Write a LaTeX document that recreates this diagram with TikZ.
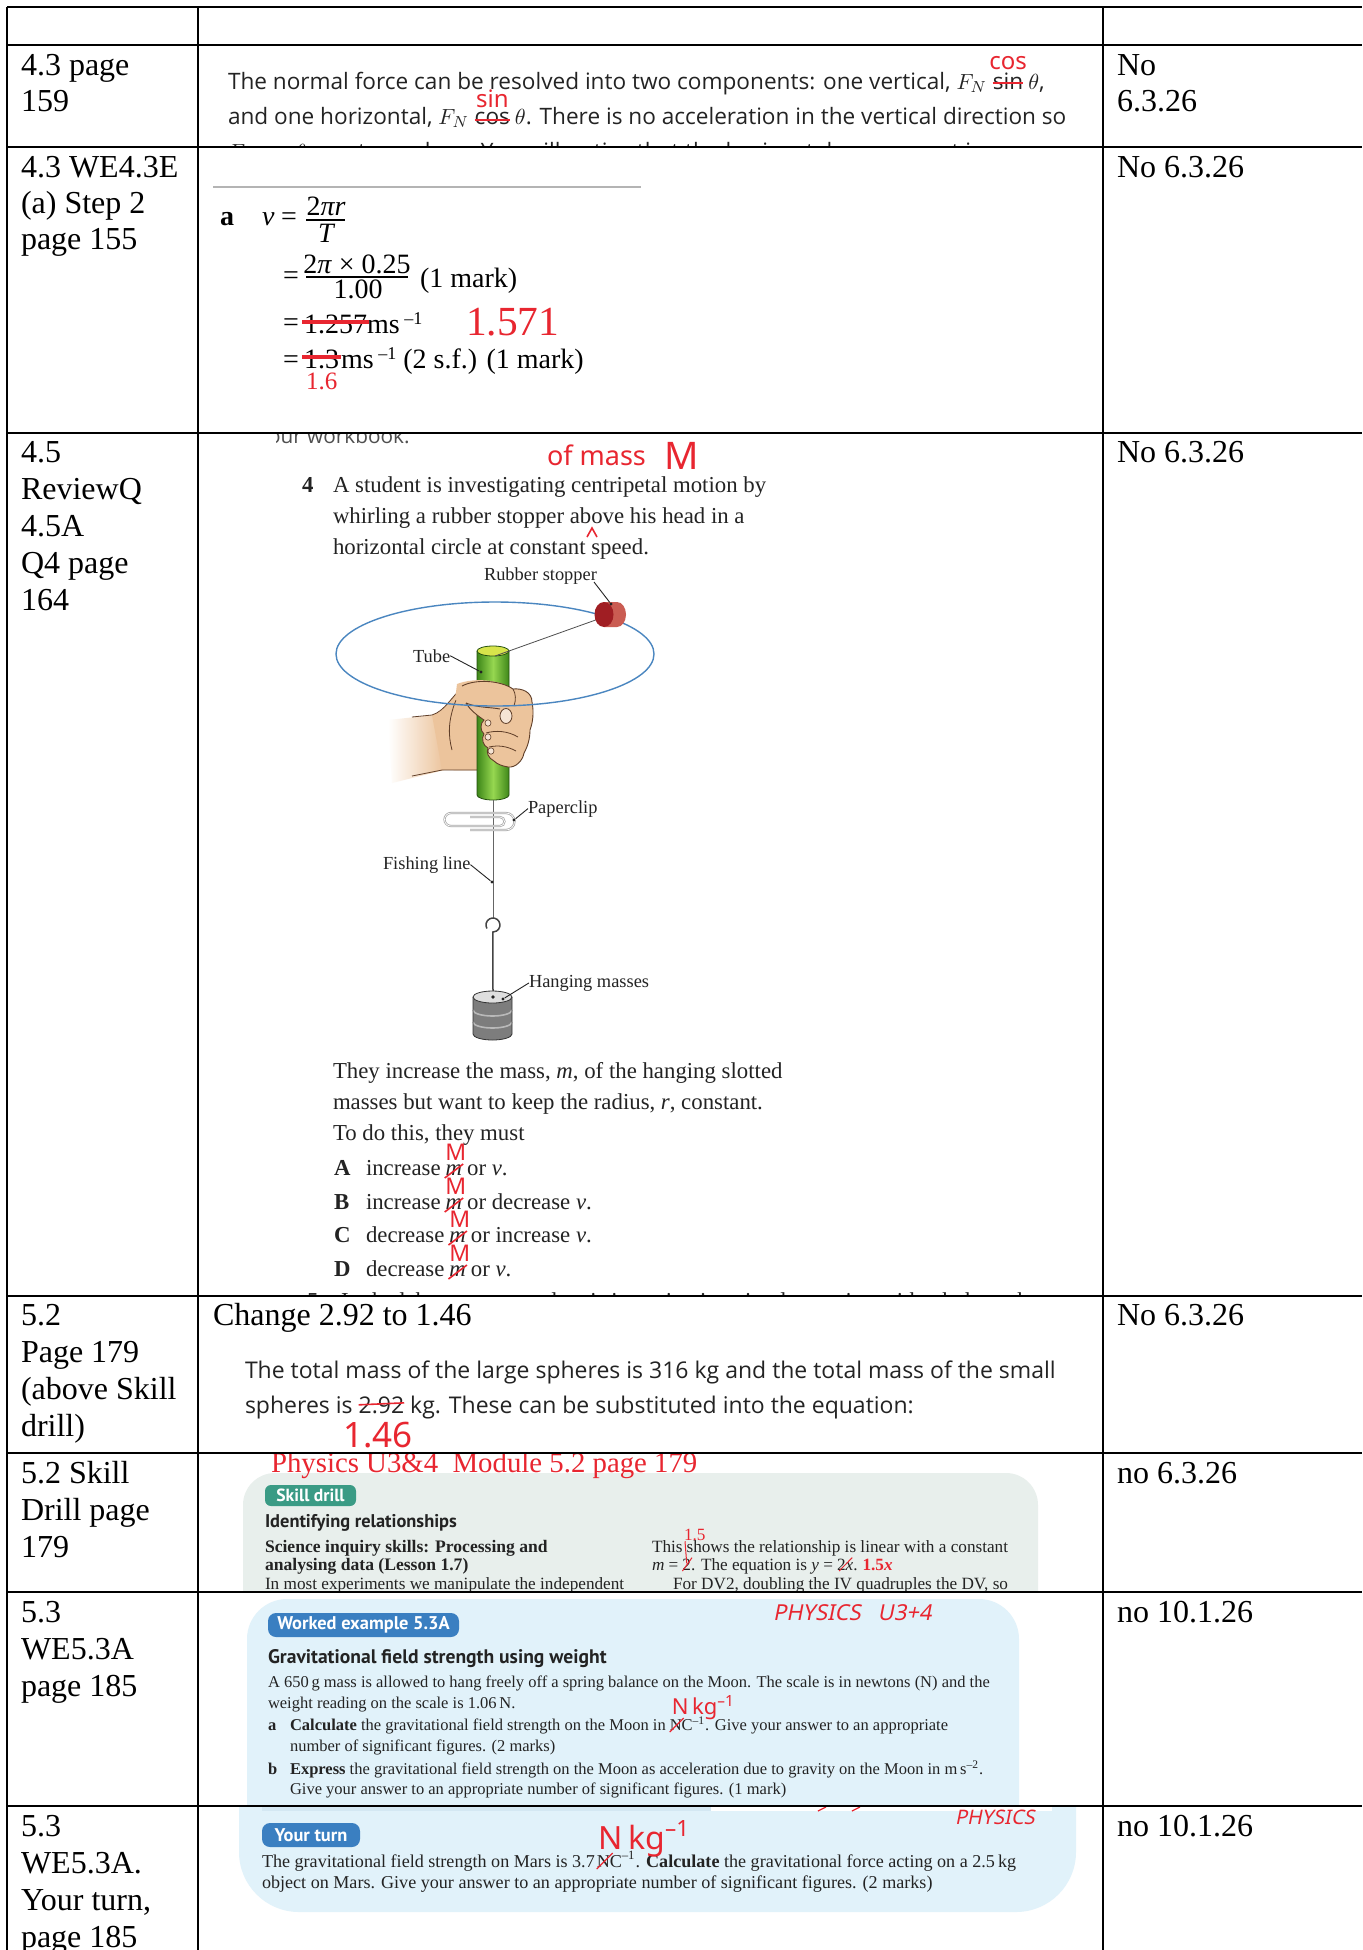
\documentclass[tikz,border=0pt]{standalone}
\usepackage{fontspec}
\setmainfont{Liberation Serif}
\newfontfamily\sansA{Open Sans}
\newfontfamily\sansB{PT Sans}
\newfontfamily\handf{Noto Sans}
\newfontfamily\handi[FakeSlant=0.2]{Noto Sans}
\usetikzlibrary{calc}
\newcommand\fsz[2]{\fontsize{#1}{#2}\selectfont}
\definecolor{hred}{RGB}{232,38,48}
\definecolor{ink}{RGB}{35,35,35}
\definecolor{gbox}{RGB}{232,239,236}
\definecolor{tealtag}{RGB}{58,155,133}
\definecolor{bbox}{RGB}{225,242,250}
\definecolor{bstrip}{RGB}{212,232,243}
\definecolor{btag}{RGB}{58,127,193}
\definecolor{skin}{RGB}{236,196,156}
\definecolor{skinnail}{RGB}{245,228,212}
\definecolor{skinline}{RGB}{95,62,40}
\definecolor{ering}{RGB}{74,134,192}
\definecolor{tubeg}{RGB}{105,185,45}
\definecolor{tubed}{RGB}{62,135,25}
\definecolor{tubel}{RGB}{150,215,80}
\definecolor{tubetop}{RGB}{215,228,75}
\definecolor{stopd}{RGB}{160,30,35}
\definecolor{stopl}{RGB}{202,92,82}
\definecolor{rrule}{RGB}{180,180,180}
\definecolor{massd}{RGB}{125,125,125}
\definecolor{massl}{RGB}{185,185,185}
\definecolor{masst}{RGB}{222,222,222}
\begin{document}
\begin{tikzpicture}[x=0.5pt,y=-0.5pt,
  tx/.style={anchor=base west, inner sep=0pt, outer sep=0pt},
  cellt/.style={tx, font=\fsz{16}{18}, text=black},
  sA/.style={tx, font=\sansA\fsz{11.3}{13}, text=ink},
  sB/.style={tx, font=\sansA\fsz{11.5}{13}, text=ink},
  mt/.style={tx, font=\fsz{14}{16}, text=black},
  bk/.style={tx, font=\fsz{11.4}{13}, text=ink},
  lab/.style={tx, font=\fsz{9.2}{10}, text=ink},
  sm/.style={tx, font=\fsz{8.6}{9}, text=ink},
  smb/.style={tx, font=\bfseries\fsz{8.8}{9}, text=ink},
  sw/.style={tx, font=\fsz{8.25}{9}, text=ink},
  swb/.style={tx, font=\bfseries\fsz{8.25}{9}, text=ink},
  sy/.style={tx, font=\fsz{9.05}{10}, text=ink},
  tagtxt/.style={inner sep=0pt, font=\sansB\bfseries\fsz{8.8}{9}, text=white},
  hw/.style={tx, font=\handf\fsz{12}{12}, text=hred},
  strike/.style={hred, line width=0.8pt},
  hline/.style={line width=1pt, black},
  vline/.style={line width=0.8pt, black},
  leader/.style={line width=0.45pt, ink},
  ldot/.style={fill=ink, circle, inner sep=0pt, minimum size=1.6pt},
]
\useasboundingbox (0,0) rectangle (1362,1950);
\fill[white] (0,0) rectangle (1362,1950);

% ---------------- left column ----------------
\node[cellt] (c1a1) at (21,75) {4.3 page};
\node[cellt] (c1a2) at (21,111) {159};
\node[cellt] (c1b1) at (21,177) {4.3 WE4.3E};
\node[cellt] (c1b2) at (21,213) {(a) Step 2};
\node[cellt] (c1b3) at (21,249) {page 155};
\node[cellt] (c1c1) at (21,462) {4.5};
\node[cellt] (c1c2) at (21,499) {ReviewQ};
\node[cellt] (c1c3) at (21,536) {4.5A};
\node[cellt] (c1c4) at (21,573) {Q4 page};
\node[cellt] (c1c5) at (21,610) {164};
\node[cellt] (c1d1) at (21,1325) {5.2};
\node[cellt] (c1d2) at (21,1362) {Page 179};
\node[cellt] (c1d3) at (21,1399) {(above Skill};
\node[cellt] (c1d4) at (21,1436) {drill)};
\node[cellt] (c1e1) at (21,1483) {5.2 Skill};
\node[cellt] (c1e2) at (21,1520) {Drill page};
\node[cellt] (c1e3) at (21,1557) {179};
\node[cellt] (c1f1) at (21,1622) {5.3};
\node[cellt] (c1f2) at (21,1659) {WE5.3A};
\node[cellt] (c1f3) at (21,1696) {page 185};
\node[cellt] (c1g1) at (21,1836) {5.3};
\node[cellt] (c1g2) at (21,1873) {WE5.3A.};
\node[cellt] (c1g3) at (21,1910) {Your turn,};
\node[cellt] (c1g4) at (21,1947) {page 185};

% ---------------- right column ----------------
\node[cellt] (c3a1) at (1117,75) {No};
\node[cellt] (c3a2) at (1117,111) {6.3.26};
\node[cellt] (c3b) at (1117,177) {No 6.3.26};
\node[cellt] (c3c) at (1117,462) {No 6.3.26};
\node[cellt] (c3d) at (1117,1325) {No 6.3.26};
\node[cellt] (c3e) at (1117,1483) {no 6.3.26};
\node[cellt] (c3f) at (1117,1622) {no 10.1.26};
\node[cellt] (c3g) at (1117,1836) {no 10.1.26};

% ---------------- row 1 ----------------
\begin{scope}
\clip (199,46) rectangle (1102,146);
\node[sA] (r1a) at (228,89) {The normal force can be resolved into two components: one vertical, $F_N$};
\node[sA] (r1b) at ($(r1a.base east)+(6,0)$) {sin};
\node[sA] (r1c) at ($(r1b.base east)+(5,0)$) {$\theta$,};
\draw[strike] ($(r1b.west)+(0,2)$) -- ($(r1b.east)+(0,2)$);
\node[hw, anchor=base] (r1d) at ($(r1b.base)+(0,-20)$) {cos};
\node[sA] (r2a0) at (228,124) {and one horizontal, $F_N$};
\node[sA] (r2b0) at ($(r2a0.base east)+(6,0)$) {cos};
\node[sA] (r2c0) at ($(r2b0.base east)+(5,0)$) {$\theta$. There is no acceleration in the vertical direction so};
\draw[strike] ($(r2b0.west)+(0,2)$) -- ($(r2b0.east)+(0,2)$);
\node[hw, anchor=base] (r2d0) at ($(r2b0.base)+(0,-17)$) {sin};
\node[sA] (r1e) at (228,159) {$F_N\cos\theta$ must equal $mg$. You will notice that the horizontal component is};
\end{scope}

% ---------------- row 2 ----------------
\draw[rrule, line width=1pt] (213,187) -- (641,187);
\node[mt, font=\bfseries\fsz{14}{16}] (r2q) at (220,225) {a};
\node[mt] (r2v) at (262,225) {\itshape v};
\node[mt] (r2e1) at (281,225) {=};
\node[mt, anchor=base] (r2n1) at (326,215) {2\itshape πr};
\draw[line width=0.6pt] (306,220) -- (345,220);
\node[mt, anchor=base] (r2d1) at (326,242) {\itshape T};
\node[mt] (r2e2) at (283,284) {=};
\node[mt, anchor=base] (r2n2) at (357,273) {2\textit{π} × 0.25};
\draw[line width=0.6pt] (306,277) -- (408,277);
\node[mt, anchor=base] (r2d2) at (358,298) {1.00};
\node[mt] (r2m1) at (420,287) {(1 mark)};
\node[mt] (r2e3) at (283,331) {=};
\node[mt] (r2s1) at (304,333) {1.257};
\node[mt] (r2u1) at (r2s1.base east) {ms\,\raisebox{0.7ex}{\fsz{9}{9}–1}};
\draw[hred, line width=1.6pt] ($(r2s1.west)+(-2,-2)$) -- ($(r2s1.east)+(2,-2)$);
\node[tx, font=\fsz{20.7}{22}, text=hred] (r2r1) at (466,335) {1.571};
\node[mt] (r2e4) at (283,368) {=};
\node[mt] (r2s2) at (304,368) {1.3};
\node[mt] (r2u2) at ($(r2s2.base east)+(2,0)$) {ms\,\raisebox{0.7ex}{\fsz{9}{9}–1} (2 s.f.) (1 mark)};
\draw[hred, line width=1.6pt] ($(r2s2.west)+(-2,-2)$) -- ($(r2s2.east)+(2,-2)$);
\node[tx, font=\fsz{12.5}{13}, text=hred] (r2r2) at (306,389) {1.6};

% ---------------- row 3 ----------------
\begin{scope}
\clip (276,434) rectangle (1102,1295);
\node[tx, font=\sansA\fsz{10.4}{12}, text=ink!80] (r3w) at (268,443) {our workbook.};
\end{scope}
\begin{scope}
\clip (199,434) rectangle (1102,1295);
\node[tx, font=\handf\fsz{13.5}{13}, text=hred] (r3h1) at (547,465) {of mass};
\node[tx, font=\handf\fsz{19}{19}, text=hred] (r3h2) at (664,469) {M};
\node[bk, font=\bfseries\fsz{11.4}{13}] (r3q) at (302,492) {4};
\node[bk] (r3l1) at (333,492) {A student is investigating centripetal motion by};
\node[bk] (r3l2) at (333,523) {whirling a rubber stopper above his head in a};
\node[bk] (r3l3) at (333,554) {horizontal circle at constant speed.};
\draw[hred, line width=0.8pt] (587,537) -- (592,528) -- (597,537);

% --- figure ---
% forearm fading
\shade[left color=white, right color=skin] (388,720) -- (434,715) -- (444,770) -- (392,783) -- cycle;
% back of hand
\fill[skin] (432,715) .. controls (445,711) and (452,696) .. (462,688)
  .. controls (468,684) and (476,681) .. (482,681) -- (482,770)
  .. controls (465,771) and (452,770) .. (442,770) -- cycle;
\draw[skinline, line width=0.4pt] (412,717) -- (432,715) .. controls (445,711) and (452,696) .. (462,688)
  .. controls (468,684) and (476,681) .. (482,681);
\draw[skinline, line width=0.4pt] (412,776) -- (442,770) -- (478,770);
\draw[skinline, line width=0.4pt] (456,700) .. controls (448,720) and (448,735) .. (452,750);
% tube
\shade[left color=tubed, right color=tubed, middle color=tubel] (477,651) -- (477,795)
  arc[start angle=180, end angle=0, x radius=16, y radius=5] -- (509,651) -- cycle;
\draw[tubed!60!black, line width=0.4pt] (477,651) -- (477,795)
  arc[start angle=180, end angle=0, x radius=16, y radius=5] -- (509,651);
\filldraw[fill=tubetop, draw=tubed!60!black, line width=0.4pt] (493,651) ellipse[x radius=16, y radius=5];
% front fist
\fill[skin] (457,684) .. controls (475,677) and (500,680) .. (513,689)
  .. controls (522,688) and (532,692) .. (532,702)
  .. controls (534,712) and (533,722) .. (530,730)
  .. controls (530,738) and (528,746) .. (524,753)
  .. controls (523,760) and (516,768) .. (508,767)
  .. controls (502,766) and (497,764) .. (494,761)
  .. controls (488,758) and (486,752) .. (488,748)
  .. controls (483,746) and (481,738) .. (484,734)
  .. controls (480,731) and (480,723) .. (484,720)
  .. controls (478,716) and (470,710) .. (466,703) -- (455,700) -- cycle;
\draw[skinline, line width=0.45pt] (462,686) .. controls (475,679) and (500,680) .. (513,689)
  .. controls (522,688) and (532,692) .. (532,702)
  .. controls (534,712) and (533,722) .. (530,730)
  .. controls (530,738) and (528,746) .. (524,753)
  .. controls (523,760) and (516,768) .. (508,767)
  .. controls (502,766) and (497,764) .. (494,761)
  .. controls (488,758) and (486,752) .. (488,748)
  .. controls (483,746) and (481,738) .. (484,734)
  .. controls (480,731) and (480,723) .. (484,720)
  .. controls (478,716) and (470,710) .. (466,703);
\draw[skinline, line width=0.45pt] (466,703) .. controls (478,708) and (490,707) .. (500,709);
\draw[skinline, line width=0.4pt] (513,689) .. controls (516,694) and (516,700) .. (514,706);
\draw[skinline, line width=0.4pt] (486,733) .. controls (496,730) and (508,731) .. (518,737);
\draw[skinline, line width=0.4pt] (489,747) .. controls (498,745) and (507,746) .. (516,751);
\filldraw[fill=skinnail, draw=skinline, line width=0.4pt] (506,716) ellipse[x radius=6, y radius=7.5];
\filldraw[fill=skinnail, draw=skinline, line width=0.3pt] (488,723) ellipse[x radius=3, y radius=3.2];
\filldraw[fill=skinnail, draw=skinline, line width=0.3pt] (488,737) ellipse[x radius=3, y radius=3.2];
\filldraw[fill=skinnail, draw=skinline, line width=0.3pt] (491,751) ellipse[x radius=3, y radius=3.2];
% circle of motion
\draw[ering, line width=0.7pt] (495,654) ellipse[x radius=159, y radius=52];
% string to stopper
\draw[ink!80, line width=0.4pt] (495,656) -- (604,617);
% stopper
\fill[stopl] (604,602) -- (617,602) arc[start angle=-90, end angle=90, x radius=9, y radius=12.5] -- (604,627) -- cycle;
\fill[stopd] (604,614.5) ellipse[x radius=9.5, y radius=12.5];
% labels and leaders
\node[lab] (lrub) at (484,580) {Rubber stopper};
\node[ldot] (drub) at (611,604) {};
\draw[leader] (594,582) -- (drub);
\node[lab] (ltube) at (413,662) {Tube};
\node[ldot] (dtube) at (481,672) {};
\draw[leader] (ltube.east) -- (dtube);
% fishing line
\draw[ink!70, line width=0.4pt] (493,800) -- (493,918);
% paperclip
\draw[gray!70, line width=1.1pt] (470,830) -- (506,830) arc[start angle=90, end angle=-90, radius=8.5] -- (451,813)
  arc[start angle=-90, end angle=-270, radius=6.5] -- (500,826) arc[start angle=90, end angle=-90, radius=4.5] -- (470,817);
\draw[white, line width=0.35pt] (470,830) -- (506,830) arc[start angle=90, end angle=-90, radius=8.5] -- (451,813)
  arc[start angle=-90, end angle=-270, radius=6.5] -- (500,826) arc[start angle=90, end angle=-90, radius=4.5] -- (470,817);
\node[lab] (lclip) at (528,813) {Paperclip};
\node[ldot] (dclip) at (514,820) {};
\draw[leader] (lclip.west) -- (dclip);
\node[lab] (lfish) at (383,869) {Fishing line};
\node[ldot] (dfish) at (492,882) {};
\draw[leader] (lfish.east) -- (dfish);
% hook and wire
\draw[ink!85, line width=0.75pt] (486.9,928.5) arc[start angle=150, end angle=450, radius=7] -- (493,998);
% masses
\fill[massd] (473,997) -- (473,1034) arc[start angle=180, end angle=0, x radius=19.5, y radius=6] -- (512,997) -- cycle;
\draw[massl, line width=0.8pt] (473,1010) arc[start angle=180, end angle=0, x radius=19.5, y radius=6];
\draw[massl, line width=0.8pt] (473,1022) arc[start angle=180, end angle=0, x radius=19.5, y radius=6];
\draw[gray!40!black, line width=0.4pt] (473,997) -- (473,1034) arc[start angle=180, end angle=0, x radius=19.5, y radius=6] -- (512,997);
\filldraw[fill=masst, draw=gray!40!black, line width=0.4pt] (492.5,997) ellipse[x radius=19.5, y radius=6];
\fill[ink] (493,997) circle[radius=1.8];
\node[lab] (lmass) at (529,987) {Hanging masses};
\node[ldot] (dmass) at (503,999) {};
\draw[leader] (lmass.west) -- (dmass);

% --- text below figure ---
\node[bk] (r3t1) at (333,1078) {They increase the mass, \textit{m}, of the hanging slotted};
\node[bk] (r3t2) at (333,1109) {masses but want to keep the radius, \textit{r}, constant.};
\node[bk] (r3t3) at (333,1140) {To do this, they must};
\foreach \L/\w/\rest/\b in {A/increase/or \textit{v}./1175, B/increase/or decrease \textit{v}./1209,
                             C/decrease/or increase \textit{v}./1242, D/decrease/or \textit{v}./1276}{
  \node[bk, font=\bfseries\fsz{11.4}{13}] (op\L) at (334,\b) {\L};
  \node[bk] (op\L w) at (366,\b) {\w};
  \node[bk] (op\L m) at ($(op\L w.base east)+(5,0)$) {\textit{m}};
  \node[bk] (op\L r) at ($(op\L m.base east)+(5,0)$) {\rest};
  \draw[hred, line width=0.8pt] ($(op\L m.base west)+(-1,3)$) -- ($(op\L m.base east)+(1,-11)$);
  \node[tx, font=\handf\fsz{11.5}{12}, text=hred, anchor=base] (op\L M) at ($(op\L m.base)+(2,-15)$) {M};
}
\node[bk] (r3cut) at (307,1308) {5\quad In the laboratory, a student is investigating circular motion with a bob on the};
\end{scope}

% ---------------- row 4 ----------------
\node[cellt] (r4c) at (213,1325) {Change 2.92 to 1.46};
\node[sB] (r4a) at (245,1378) {The total mass of the large spheres is 316 kg and the total mass of the small};
\node[sB] (r4b1) at (245,1413) {spheres is};
\node[sB] (r4b2) at ($(r4b1.base east)+(6,0)$) {2.92};
\node[sB] (r4b3) at ($(r4b2.base east)+(6,0)$) {kg. These can be substituted into the equation:};
\draw[strike] ($(r4b2.west)+(0,0)$) -- ($(r4b2.east)+(0,-2)$);
\node[tx, font=\handf\fsz{17.5}{18}, text=hred] (r4r) at (343,1447) {1.46};

% ---------------- row 5 ----------------
\begin{scope}
\clip (199,1454) rectangle (1102,1591);
\fill[gbox, rounded corners=16] (243,1473) rectangle (1038,1640);
\node[tx, font=\fsz{14.4}{15}, text=hred] (r5t) at (271,1472) {Physics U3\&4\ \ Module 5.2 page 179};
\fill[tealtag, rounded corners=3] (265,1485) rectangle (356,1506);
\node[tagtxt] (r5tag) at (310.5,1495.5) {Skill drill};
\node[tx, font=\sansB\bfseries\fsz{9.2}{10}, text=ink] (r5h) at (265,1527) {Identifying relationships};
\node[smb] (r5l1) at (265,1552) {Science inquiry skills: Processing and};
\node[smb] (r5l2) at (265,1570) {analysing data (Lesson 1.7)};
\node[sm] (r5l3) at (265,1589) {In most experiments we manipulate the independent};
\node[sm] (r5r1a) at (652,1552) {Thi};
\node[sm] (r5r1b) at (r5r1a.base east) {s};
\node[sm] (r5r1c) at ($(r5r1b.base east)+(4,0)$) {shows the relationship is linear with a constant};
\node[sm] (r5m) at (652,1570) {\textit{m} =};
\node[sm] (r5m2) at ($(r5m.base east)+(4,0)$) {2};
\node[sm] (r5m3) at (r5m2.base east) {. The equation is \textit{y} =};
\node[sm] (r5yx) at ($(r5m3.base east)+(4,0)$) {2\textit{x}};
\node[sm] (r5m4) at (r5yx.base east) {.};
\node[tx, font=\bfseries\fsz{8.6}{9}, text=hred] (r5m5) at ($(r5m4.base east)+(5,0)$) {1.5\textit{x}};
\node[tx, font=\fsz{8.6}{9}, text=hred] (r5hh) at (684,1540) {1.5};
\draw[hred, line width=0.5pt] ($(r5hh.south west)+(1,1)$) -- ($(r5m2.center)+(0,-1)$);
\draw[hred, line width=0.5pt] ($(r5m2.south west)+(0,1)$) -- ($(r5m2.north east)+(1,-1)$);
\draw[hred, line width=0.5pt] ($(r5yx.south west)+(2,1)$) -- ($(r5yx.north east)+(-1,-1)$);
\node[sm] (r5l4) at (673,1589) {For DV2, doubling the IV quadruples the DV, so};
\end{scope}

% ---------------- row 6 ----------------
\begin{scope}
\clip (199,1593) rectangle (1102,1805);
\fill[bbox, rounded corners=20] (247,1599) rectangle (1019,1860);
\fill[btag, rounded corners=4] (268,1613) rectangle (459,1637);
\node[tagtxt, font=\sansB\bfseries\fsz{9.2}{10}] (r6tag) at (363.5,1625) {Worked example 5.3A};
\node[tx, font=\handi\fsz{11}{11}, text=hred] (r6p) at (773,1620) {PHYSICS\ \ \ U3+4};
\node[tx, font=\sansB\bfseries\fsz{9.8}{10}, text=ink] (r6h) at (268,1663) {Gravitational field strength using weight};
\node[sw] (r6l1) at (268,1687) {A 650\,g mass is allowed to hang freely off a spring balance on the Moon. The scale is in newtons (N) and the};
\node[sw] (r6l2) at (268,1708) {weight reading on the scale is 1.06\,N.};
\node[swb] (r6a) at (268,1730) {a};
\node[sw] (r6a1) at (290,1730) {\textbf{Calculate} the gravitational field strength on the Moon in};
\node[sw] (r6nc) at ($(r6a1.base east)+(4,0)$) {NC\textsuperscript{–1}};
\node[sw] (r6a2) at (r6nc.base east) {. Give your answer to an appropriate};
\draw[hred, line width=0.6pt] ($(r6nc.base west)+(0,2)$) -- ($(r6nc.base west)+(14,-12)$);
\node[tx, font=\handf\fsz{11}{11}, text=hred] (r6nk) at ($(r6nc.base west)+(2,-16)$) {N\,kg\textsuperscript{–1}};
\node[sw] (r6l4) at (290,1751) {number of significant figures. (2 marks)};
\node[swb] (r6b) at (268,1774) {b};
\node[sw] (r6b1) at (290,1774) {\textbf{Express} the gravitational field strength on the Moon as acceleration due to gravity on the Moon in m\,s\textsuperscript{–2}.};
\node[sw] (r6l6) at (290,1794) {Give your answer to an appropriate number of significant figures. (1 mark)};
\end{scope}

% ---------------- row 7 ----------------
\begin{scope}
\clip (199,1807) rectangle (1102,1950);
\fill[bbox, rounded corners=30] (239,1740) rectangle (1076,1912);
\fill[bstrip] (262,1806) rectangle (711,1811);
\fill[white] (711,1806) rectangle (1052,1811);
\draw[hred, line width=0.6pt] (818,1811) -- (826,1807) (852,1811) -- (860,1807);
\node[tx, font=\handi\fsz{10}{10}, text=hred] (r7p) at (955,1824) {PHYSICS};
\fill[btag, rounded corners=4] (262,1823) rectangle (360,1847);
\node[tagtxt, font=\sansB\bfseries\fsz{9.2}{10}] (r7tag) at (311,1835) {Your turn};
\node[sy] (r7a) at (262,1867) {The gravitational field strength on Mars is 3.7};
\node[sy] (r7nc) at ($(r7a.base east)+(2,0)$) {NC\textsuperscript{–1}};
\node[sy] (r7b) at (r7nc.base east) {. \textbf{Calculate} the gravitational force acting on a 2.5\,kg};
\draw[hred, line width=0.6pt] ($(r7nc.base west)+(0,2)$) -- ($(r7nc.base west)+(16,-14)$);
\node[tx, font=\handf\fsz{16}{16}, text=hred] (r7nk) at ($(r7nc.base west)+(2,-18)$) {N\,kg\textsuperscript{–1}};
\node[sy] (r7c) at (262,1888) {object on Mars. Give your answer to an appropriate number of significant figures. (2 marks)};
\end{scope}

% ---------------- table rules ----------------
\foreach \y in {7,45,147,433,1296,1453,1592,1806}
  \draw[hline] (7,\y) -- (1362,\y);
\foreach \x in {7,198,1103}
  \draw[vline] (\x,7) -- (\x,1950);
\end{tikzpicture}
\end{document}
